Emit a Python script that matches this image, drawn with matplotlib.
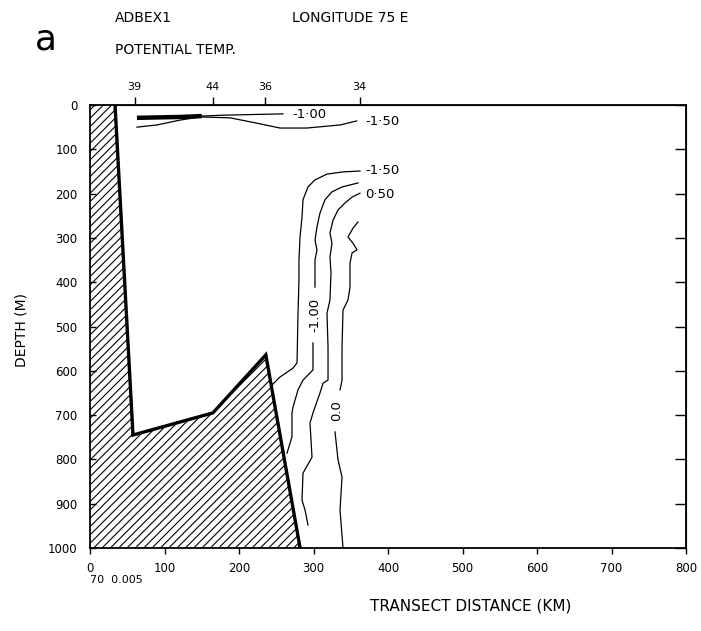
import matplotlib
matplotlib.use("Agg")
import matplotlib.pyplot as plt
from matplotlib.patches import Polygon

plt.rcParams['font.family'] = ['DejaVu Sans']
plt.rcParams['hatch.linewidth'] = 0.8

# ---- data (distance km, depth m) ----
x_ticks = [0, 100, 200, 300, 400, 500, 600, 700, 800]
y_ticks = [0, 100, 200, 300, 400, 500, 600, 700, 800, 900, 1000]
station_km = [60, 165, 235, 362]
station_labels = ["39", "44", "36", "34"]

bottom_km = [0, 33.6, 57.7, 165, 236, 282, 0]
bottom_m = [0, 0, 745, 695, 564, 1000, 1000]

# surface contours
s1_thick_km = [63, 121, 150]
s1_thick_m = [29, 27, 25]
s1_km = [150, 178.5, 259]
s1_m = [25, 23, 20]
s2_km = [63, 90, 121, 148, 188, 224, 255, 291, 336, 358]
s2_m = [50, 45, 34, 27, 29, 41, 52, 52, 45, 36]

# deep contours
a_km = [362.4, 339.6, 318.1, 302.0, 292.6, 285.9, 284.6, 281.9, 280.5, 280.5, 279.2, 277.9, 272.5, 255.0, 244.3]
a_m = [149, 151, 156, 169, 185, 214, 253, 298, 350, 395, 470, 582, 594, 614, 632]

b1_km = [359.7, 338.3, 324.8, 315.4, 308.7, 304.7, 302.0, 304.7, 302.0, 302.0, 302.0]
b1_m = [176, 185, 196, 214, 244, 275, 305, 327, 350, 379, 411]
b2_km = [299.3, 299.3, 285.9, 279.2, 272.5, 271.1, 271.1, 264.4]
b2_m = [537, 598, 621, 643, 682, 695, 749, 786]

c_km = [362.4, 351.7, 342.3, 332.9, 326.2, 322.1, 324.8, 322.1, 323.5, 322.1, 318.1, 319.5, 319.5, 312.8, 308.7, 299.3, 295.3, 298.0, 285.9, 284.6, 288.6, 292.6]
c_m = [199, 208, 221, 237, 260, 289, 312, 343, 379, 440, 470, 546, 621, 628, 650, 695, 718, 795, 831, 892, 914, 948]

d1_km = [359.7, 353.0, 346.3, 353.0, 358.4, 351.7, 349.0, 349.0, 346.3, 339.6, 338.3, 338.3, 335.6]
d1_m = [264, 278, 298, 312, 327, 334, 357, 411, 440, 463, 546, 621, 643]
d2_km = [328.9, 332.9, 338.3, 335.6, 339.6]
d2_m = [738, 801, 840, 914, 1000]

labels = [("-1·00", 271, 21, 0), ("-1·50", 369, 37, 0), ("-1·50", 369, 148, 0),
          ("0·50", 369, 203, 0), ("-1.00", 302, 474, 90), ("0.0", 331, 690, 90)]

# ---- figure ----
fig = plt.figure(figsize=(7.01, 6.31), dpi=100)
ax = fig.add_axes([90/701, 83/631, 596/701, 443/631])
ax.set_xlim(0, 800)
ax.set_ylim(1000, 0)

poly = Polygon(list(zip(bottom_km, bottom_m)), closed=True, facecolor='white',
               edgecolor='black', hatch='////', linewidth=0)
ax.add_patch(poly)
ax.plot(bottom_km[1:6], bottom_m[1:6], color='black', lw=2.4, solid_joinstyle='miter')

lc = dict(color='black', lw=0.9)
ax.plot(s1_thick_km, s1_thick_m, color='black', lw=3.2, solid_capstyle='butt')
ax.plot(s1_km, s1_m, **lc)
ax.plot(s2_km, s2_m, **lc)
ax.plot(a_km, a_m, **lc)
ax.plot(b1_km, b1_m, **lc)
ax.plot(b2_km, b2_m, **lc)
ax.plot(c_km, c_m, **lc)
ax.plot(d1_km, d1_m, **lc)
ax.plot(d2_km, d2_m, **lc)

for txt, xk, ym, rot in labels:
    ax.text(xk, ym, txt, fontsize=9.5, rotation=rot,
            ha='left' if rot == 0 else 'center', va='center')

ax.set_xticks(x_ticks)
ax.set_xticklabels([str(v) for v in x_ticks], fontsize=8.5)
ax.set_yticks(y_ticks)
ax.set_yticklabels([str(v) for v in y_ticks], fontsize=8.5)
ax.tick_params(axis='x', direction='out', length=4, width=1, pad=6)
ax.tick_params(axis='y', direction='in', length=4, width=1, pad=9, right=False)
for s in ax.spines.values():
    s.set_linewidth(1.3)

# right inward ticks longer
axr = ax.secondary_yaxis('right')
axr.set_yticks(y_ticks)
axr.set_yticklabels([])
axr.tick_params(direction='in', length=8, width=1)

# station ticks on top
axt = ax.secondary_xaxis('top')
axt.set_xticks(station_km)
axt.set_xticklabels(station_labels, fontsize=8)
axt.tick_params(direction='out', length=6, width=1, pad=3)

fig.text(35/701, 1 - 40/631, "a", fontsize=26, ha='left', va='center')
fig.text(115/701, 1 - 18/631, "ADBEX1", fontsize=10, ha='left', va='center')
fig.text(292/701, 1 - 18/631, "LONGITUDE 75 E", fontsize=10, ha='left', va='center')
fig.text(115/701, 1 - 50/631, "POTENTIAL TEMP.", fontsize=10, ha='left', va='center')
fig.text(90/701, 1 - 580/631, "70  0.005", fontsize=8, ha='left', va='center')
fig.text(370/701, 1 - 606/631, "TRANSECT DISTANCE (KM)", fontsize=11, ha='left', va='center')
fig.text(22/701, 1 - 330/631, "DEPTH (M)", fontsize=10, rotation=90, ha='center', va='center')

fig.savefig("out.png", dpi=100)
